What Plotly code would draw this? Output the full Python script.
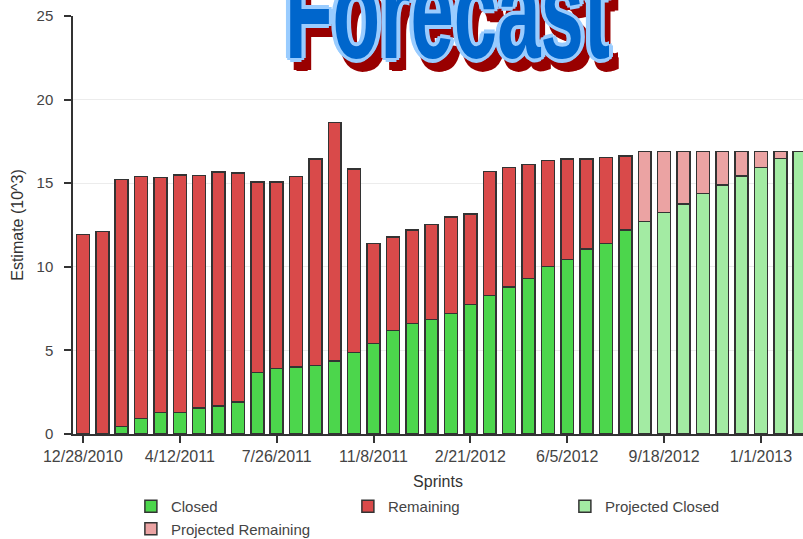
import plotly.graph_objects as go

# ---- data ----
sprint_dates = [
    "2010-12-28", "2011-01-18", "2011-02-08", "2011-03-01", "2011-03-22",
    "2011-04-12", "2011-05-03", "2011-05-24", "2011-06-14", "2011-07-05",
    "2011-07-26", "2011-08-16", "2011-09-06", "2011-09-27", "2011-10-18",
    "2011-11-08", "2011-11-29", "2011-12-20", "2012-01-10", "2012-01-31",
    "2012-02-21", "2012-03-13", "2012-04-03", "2012-04-24", "2012-05-15",
    "2012-06-05", "2012-06-26", "2012-07-17", "2012-08-07",
]
closed = [0.0, 0.0, 0.44, 0.94, 1.30, 1.30, 1.55, 1.67, 1.91, 3.67,
          3.91, 4.01, 4.09, 4.37, 4.87, 5.40, 6.18, 6.60, 6.86, 7.22,
          7.74, 8.27, 8.79, 9.31, 10.01, 10.45, 11.05, 11.40, 12.20]
remaining = [11.94, 12.10, 14.79, 14.47, 14.03, 14.19, 13.92, 14.00, 13.70, 11.40,
             11.16, 11.38, 12.36, 14.27, 10.98, 6.00, 5.60, 5.60, 5.68, 5.76,
             5.42, 7.42, 7.16, 6.80, 6.36, 6.00, 5.41, 5.15, 4.44]

projected_dates = [
    "2012-08-28", "2012-09-18", "2012-10-09", "2012-10-30", "2012-11-20",
    "2012-12-11", "2013-01-01", "2013-01-22", "2013-02-12",
]
projected_closed = [12.72, 13.24, 13.76, 14.37, 14.89, 15.43, 15.95, 16.47, 16.91]
projected_remaining = [4.19, 3.67, 3.15, 2.54, 2.02, 1.48, 0.96, 0.44, 0.0]

x_tick_vals = ["2010-12-28", "2011-04-12", "2011-07-26", "2011-11-08",
               "2012-02-21", "2012-06-05", "2012-09-18", "2013-01-01"]
x_tick_text = ["12/28/2010", "4/12/2011", "7/26/2011", "11/8/2011",
               "2/21/2012", "6/5/2012", "9/18/2012", "1/1/2013"]
y_tick_vals = [0, 5, 10, 15, 20, 25]

# ---- style ----
FONT = "Liberation Sans, Arial, sans-serif"
BAR_W = 14 * 24 * 3600 * 1000  # ms
outline = dict(color="#333333", width=1.5)

fig = go.Figure()
fig.add_trace(go.Bar(name="Closed", x=sprint_dates, y=closed, width=BAR_W,
                     marker=dict(color="#4cd64c", line=outline)))
fig.add_trace(go.Bar(name="Remaining", x=sprint_dates, y=remaining, width=BAR_W,
                     marker=dict(color="#d94a4a", line=outline)))
fig.add_trace(go.Bar(name="Projected Closed", x=projected_dates, y=projected_closed, width=BAR_W,
                     marker=dict(color="#a3eba3", line=outline)))
fig.add_trace(go.Bar(name="Projected Remaining", x=projected_dates, y=projected_remaining, width=BAR_W,
                     marker=dict(color="#eba3a3", line=outline)))

# text-shadow offsets are given before the horizontal squeeze (x factor ~1.7)
stroke = ["6px 0 0 #99ccff", "-6px 0 0 #99ccff", "0 3px 0 #99ccff", "0 -3px 0 #99ccff",
          "4px 2px 0 #99ccff", "-4px 2px 0 #99ccff", "4px -2px 0 #99ccff", "-4px -2px 0 #99ccff"]
red = ["9px 8px 0 #990000", "13px 9px 0 #990000", "6px 9px 0 #990000", "9px 11px 0 #990000",
       "13px 6px 0 #990000", "6px 6px 0 #990000", "5px 10px 0 #990000", "14px 10px 0 #990000"]

fig.add_annotation(
    text="Forecast", xref="paper", yref="paper", x=0.513, y=0.826,
    xanchor="center", yanchor="bottom", showarrow=False,
    font=dict(family=FONT, size=135, weight="bold", color="#0066cc",
              shadow=", ".join(stroke + red)),
)

fig.update_layout(
    width=803, height=539,
    margin=dict(l=73, r=0, t=16, b=105, autoexpand=False),
    paper_bgcolor="white", plot_bgcolor="white",
    barmode="stack",
    hovermode=False,
    showlegend=True,
    legend=dict(orientation="h", xref="container", yref="container",
                x=0.163, xanchor="left", y=0.0909, yanchor="top",
                entrywidth=172, entrywidthmode="pixels", itemwidth=30,
                font=dict(family=FONT, size=15, color="#444444"),
                traceorder="normal"),
    xaxis=dict(type="date", range=["2010-12-17 05:00", "2013-02-15 14:00"],
               tickvals=x_tick_vals, ticktext=x_tick_text,
               tickfont=dict(family=FONT, size=16, color="#444444"),
               showline=True, linecolor="#333333", linewidth=1.5,
               ticks="outside", ticklen=7, tickcolor="#333333", tickwidth=1.5,
               showgrid=False, zeroline=False, automargin=False,
               title=dict(text="Sprints", font=dict(family=FONT, size=16, color="#333333"),
                          standoff=17)),
    yaxis=dict(range=[0, 25], tickvals=y_tick_vals,
               tickfont=dict(family=FONT, size=15, color="#444444"),
               showline=True, linecolor="#333333", linewidth=1.5,
               ticks="outside", ticklen=7, tickcolor="#333333", tickwidth=1.5,
               ticklabelstandoff=8,
               showgrid=True, gridcolor="#ececec", gridwidth=1, zeroline=False,
               automargin=False,
               title=dict(text="Estimate (10^3)", font=dict(family=FONT, size=16, color="#333333"),
                          standoff=9)),
)

post = """
document.body.style.margin = '0';
var gd = document.getElementById('{plot_id}');
function squeeze() {
  var t = gd.querySelector('.annotation-text');
  if (!t) return;
  t.style.transform = '';
  var w = t.getBBox().width;
  var sx = 325 / w;
  t.style.transformBox = 'fill-box';
  t.style.transformOrigin = '50% 50%';
  t.style.transform = 'scale(' + sx + ', 1)';
}
squeeze();
gd.on('plotly_afterplot', squeeze);
"""

fig.write_html("out.html", post_script=post, config={"displayModeBar": False})
